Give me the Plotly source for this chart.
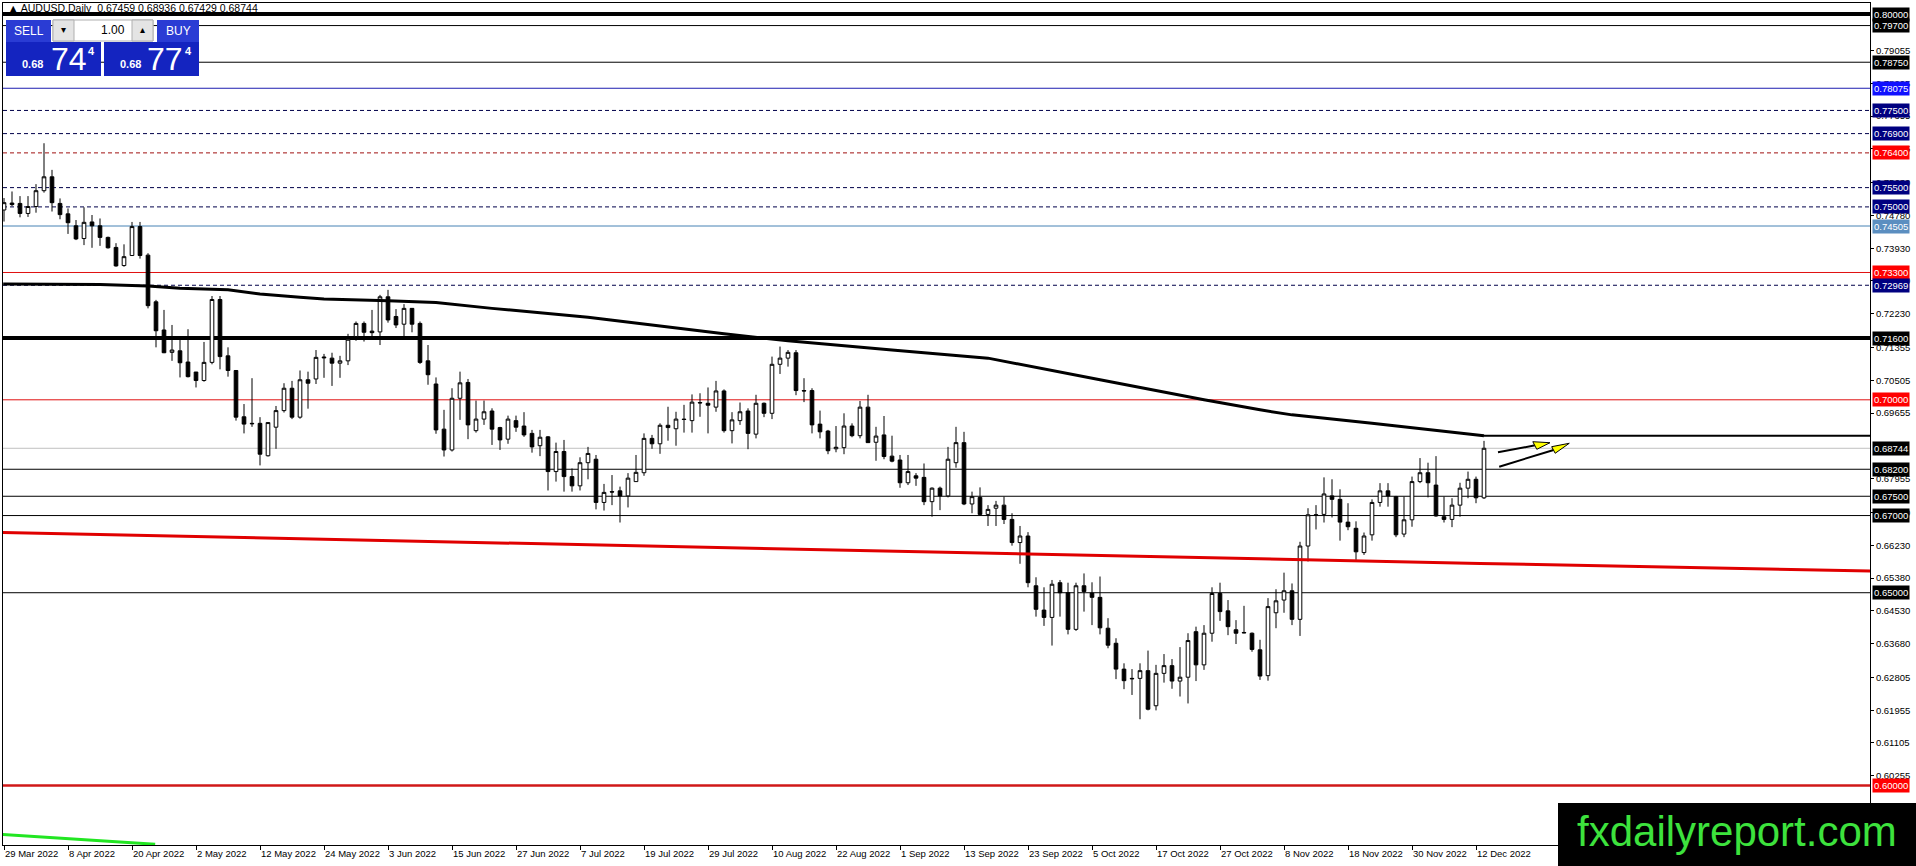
import plotly.graph_objects as go

###############################################################################
# Data (AUDUSD daily)
###############################################################################
tick_dates = ["29 Mar 2022", "8 Apr 2022", "20 Apr 2022", "2 May 2022", "12 May 2022",
              "24 May 2022", "3 Jun 2022", "15 Jun 2022", "27 Jun 2022", "7 Jul 2022",
              "19 Jul 2022", "29 Jul 2022", "10 Aug 2022", "22 Aug 2022", "1 Sep 2022",
              "13 Sep 2022", "23 Sep 2022", "5 Oct 2022", "17 Oct 2022", "27 Oct 2022",
              "8 Nov 2022", "18 Nov 2022", "30 Nov 2022", "12 Dec 2022"]

opens = [0.7492, 0.7510, 0.7509, 0.7483, 0.7501, 0.7542, 0.7578, 0.7509, 0.7482, 0.7451,
         0.7418, 0.7461, 0.7451, 0.7421, 0.7395, 0.7348, 0.7374, 0.7449, 0.7375, 0.7254,
         0.7181, 0.7123, 0.7127, 0.7098, 0.7072, 0.7050, 0.7097, 0.7260, 0.7114, 0.7076,
         0.6956, 0.6939, 0.6939, 0.6855, 0.6929, 0.6972, 0.7030, 0.6955, 0.7052, 0.7054,
         0.7111, 0.7108, 0.7095, 0.7101, 0.7164, 0.7198, 0.7178, 0.7176, 0.7267, 0.7216,
         0.7196, 0.7237, 0.7198, 0.7101, 0.7041, 0.6924, 0.6870, 0.7004, 0.7045, 0.6920,
         0.6950, 0.6971, 0.6928, 0.6898, 0.6946, 0.6932, 0.6913, 0.6881, 0.6904, 0.6814,
         0.6866, 0.6801, 0.6777, 0.6837, 0.6846, 0.6734, 0.6762, 0.6764, 0.6751, 0.6788,
         0.6811, 0.6900, 0.6886, 0.6934, 0.6925, 0.6950, 0.6946, 0.6993, 0.6991, 0.6981,
         0.7023, 0.6920, 0.6946, 0.6971, 0.6911, 0.6991, 0.6965, 0.7092, 0.7108, 0.7122,
         0.7024, 0.7024, 0.6937, 0.6919, 0.6873, 0.6876, 0.6932, 0.6907, 0.6981, 0.6890,
         0.6909, 0.6854, 0.6844, 0.6785, 0.6803, 0.6799, 0.6736, 0.6771, 0.6751, 0.6837,
         0.6889, 0.6730, 0.6747, 0.6703, 0.6719, 0.6727, 0.6690, 0.6630, 0.6647, 0.6518,
         0.6455, 0.6436, 0.6526, 0.6500, 0.6405, 0.6518, 0.6499, 0.6488, 0.6408, 0.6369,
         0.6302, 0.6278, 0.6278, 0.6298, 0.6207, 0.6291, 0.6311, 0.6271, 0.6281, 0.6399,
         0.6313, 0.6395, 0.6498, 0.6453, 0.6404, 0.6397, 0.6395, 0.6352, 0.6285, 0.6448,
         0.6481, 0.6505, 0.6431, 0.6621, 0.6702, 0.6703, 0.6751, 0.6742, 0.6683, 0.6667,
         0.6604, 0.6650, 0.6734, 0.6764, 0.6749, 0.6652, 0.6689, 0.6788, 0.6811, 0.6779,
         0.6697, 0.6690, 0.6727, 0.6771, 0.6794, 0.67459]

highs = [0.7523, 0.7540, 0.7528, 0.7528, 0.7559, 0.7665, 0.7596, 0.7522, 0.7496, 0.7466,
         0.7499, 0.7479, 0.7470, 0.7423, 0.7406, 0.7403, 0.7461, 0.7461, 0.7380, 0.7259,
         0.7233, 0.7194, 0.7157, 0.7183, 0.7072, 0.7150, 0.7269, 0.7269, 0.7136, 0.7076,
         0.6989, 0.7056, 0.6955, 0.6941, 0.6984, 0.7043, 0.7049, 0.7076, 0.7073, 0.7129,
         0.7119, 0.7122, 0.7114, 0.7171, 0.7203, 0.7203, 0.7233, 0.7272, 0.7285, 0.7235,
         0.7248, 0.7237, 0.7203, 0.7142, 0.7058, 0.6974, 0.7030, 0.7073, 0.7054, 0.6998,
         0.6998, 0.6978, 0.6930, 0.6959, 0.6959, 0.6968, 0.6922, 0.6922, 0.6906, 0.6889,
         0.6896, 0.6822, 0.6851, 0.6878, 0.6857, 0.6782, 0.6805, 0.6775, 0.6810, 0.6857,
         0.6913, 0.6909, 0.6939, 0.6982, 0.6969, 0.6987, 0.7014, 0.7017, 0.7032, 0.7049,
         0.7027, 0.6968, 0.6993, 0.6978, 0.7013, 0.6993, 0.7112, 0.7138, 0.7129, 0.7129,
         0.7056, 0.7030, 0.6972, 0.6922, 0.6932, 0.6965, 0.6939, 0.6997, 0.7013, 0.6930,
         0.6958, 0.6907, 0.6857, 0.6857, 0.6810, 0.6835, 0.6773, 0.6775, 0.6878, 0.6930,
         0.6917, 0.6762, 0.6773, 0.6727, 0.6738, 0.6749, 0.6706, 0.6673, 0.6657, 0.6540,
         0.6514, 0.6533, 0.6533, 0.6526, 0.6526, 0.6550, 0.6527, 0.6542, 0.6434, 0.6382,
         0.6317, 0.6302, 0.6317, 0.6350, 0.6313, 0.6341, 0.6328, 0.6359, 0.6395, 0.6412,
         0.6416, 0.6514, 0.6526, 0.6481, 0.6429, 0.6466, 0.6397, 0.6378, 0.6486, 0.6509,
         0.6552, 0.6524, 0.6632, 0.6719, 0.6727, 0.6799, 0.6794, 0.6768, 0.6732, 0.6685,
         0.6656, 0.6742, 0.6784, 0.6784, 0.6751, 0.6749, 0.6801, 0.6849, 0.6837, 0.6854,
         0.6749, 0.6745, 0.6785, 0.6814, 0.6801, 0.68936]

lows = [0.7462, 0.7502, 0.7473, 0.7474, 0.7485, 0.7537, 0.7488, 0.7468, 0.7430, 0.7414,
        0.7401, 0.7394, 0.7399, 0.7392, 0.7345, 0.7345, 0.7373, 0.7366, 0.7237, 0.7136,
        0.7121, 0.7101, 0.7058, 0.7058, 0.7032, 0.7047, 0.7092, 0.7079, 0.7060, 0.6946,
        0.6913, 0.6930, 0.6830, 0.6853, 0.6873, 0.6967, 0.6950, 0.6951, 0.6977, 0.7041,
        0.7057, 0.7036, 0.7057, 0.7090, 0.7153, 0.7151, 0.7160, 0.7142, 0.7200, 0.7186,
        0.7164, 0.7175, 0.7093, 0.7039, 0.6912, 0.6853, 0.6866, 0.6948, 0.6898, 0.6915,
        0.6935, 0.6883, 0.6870, 0.6886, 0.6917, 0.6904, 0.6863, 0.6854, 0.6765, 0.6788,
        0.6762, 0.6762, 0.6765, 0.6794, 0.6716, 0.6713, 0.6727, 0.6682, 0.6721, 0.6788,
        0.6803, 0.6873, 0.6860, 0.6894, 0.6881, 0.6915, 0.6915, 0.6956, 0.6913, 0.6969,
        0.6915, 0.6887, 0.6935, 0.6872, 0.6900, 0.6955, 0.6950, 0.7067, 0.7086, 0.7012,
        0.6994, 0.6913, 0.6900, 0.6859, 0.6864, 0.6859, 0.6903, 0.6900, 0.6889, 0.6842,
        0.6846, 0.6838, 0.6772, 0.6779, 0.6777, 0.6727, 0.6697, 0.6714, 0.6747, 0.6824,
        0.6727, 0.6706, 0.6699, 0.6673, 0.6673, 0.6678, 0.6622, 0.6575, 0.6514, 0.6438,
        0.6414, 0.6363, 0.6438, 0.6392, 0.6401, 0.6451, 0.6416, 0.6392, 0.6356, 0.6276,
        0.6250, 0.6235, 0.6172, 0.6195, 0.6195, 0.6267, 0.6251, 0.6231, 0.6213, 0.6271,
        0.6300, 0.6373, 0.6427, 0.6390, 0.6367, 0.6395, 0.6347, 0.6274, 0.6272, 0.6408,
        0.6448, 0.6416, 0.6388, 0.6581, 0.6664, 0.6682, 0.6695, 0.6635, 0.6662, 0.6585,
        0.6598, 0.6635, 0.6723, 0.6723, 0.6644, 0.6644, 0.6671, 0.6784, 0.6747, 0.6697,
        0.6682, 0.6670, 0.6697, 0.6745, 0.6732, 0.67429]

closes = [0.7511, 0.7506, 0.7483, 0.7501, 0.7542, 0.7578, 0.7511, 0.7480, 0.7459, 0.7417,
          0.7460, 0.7451, 0.7421, 0.7394, 0.7347, 0.7371, 0.7449, 0.7374, 0.7244, 0.7179,
          0.7122, 0.7129, 0.7096, 0.7060, 0.7050, 0.7097, 0.7260, 0.7112, 0.7076, 0.6955,
          0.6937, 0.6938, 0.6859, 0.6941, 0.6972, 0.7030, 0.6955, 0.7052, 0.7043, 0.7110,
          0.7109, 0.7095, 0.7101, 0.7157, 0.7198, 0.7175, 0.7174, 0.7267, 0.7207, 0.7194,
          0.7237, 0.7196, 0.7097, 0.7065, 0.6922, 0.6870, 0.7004, 0.7044, 0.6935, 0.6950,
          0.6969, 0.6924, 0.6896, 0.6950, 0.6929, 0.6909, 0.6878, 0.6903, 0.6814, 0.6866,
          0.6801, 0.6777, 0.6837, 0.6861, 0.6734, 0.6760, 0.6761, 0.6751, 0.6797, 0.6812,
          0.6900, 0.6886, 0.6934, 0.6928, 0.6950, 0.6949, 0.6994, 0.6992, 0.6986, 0.7023,
          0.6920, 0.6948, 0.6969, 0.6913, 0.6991, 0.6965, 0.7092, 0.7108, 0.7123, 0.7024,
          0.7023, 0.6935, 0.6917, 0.6868, 0.6877, 0.6932, 0.6907, 0.6981, 0.6889, 0.6906,
          0.6853, 0.6841, 0.6785, 0.6814, 0.6797, 0.6736, 0.6771, 0.6751, 0.6846, 0.6889,
          0.6730, 0.6749, 0.6703, 0.6716, 0.6727, 0.6690, 0.6630, 0.6647, 0.6526, 0.6457,
          0.6436, 0.6522, 0.6500, 0.6405, 0.6518, 0.6503, 0.6488, 0.6409, 0.6364, 0.6302,
          0.6272, 0.6277, 0.6298, 0.6198, 0.6291, 0.6311, 0.6271, 0.6281, 0.6376, 0.6313,
          0.6395, 0.6498, 0.6451, 0.6412, 0.6395, 0.6396, 0.6353, 0.6284, 0.6464, 0.6479,
          0.6505, 0.6431, 0.6621, 0.6702, 0.6701, 0.6756, 0.6742, 0.6683, 0.6671, 0.6606,
          0.6647, 0.6734, 0.6764, 0.6751, 0.6650, 0.6689, 0.6788, 0.6811, 0.6785, 0.6699,
          0.6690, 0.6727, 0.6771, 0.6794, 0.6746, 0.68744]

# Slow black moving average (bar index, value)
ma_bars = [-0.1, 12, 18, 22, 28, 32, 37, 40, 48, 54, 61, 73, 90, 98, 111, 123, 137, 150,
           157, 161, 171, 185]
ma_values = [0.7300, 0.7299, 0.7295, 0.7289, 0.7285, 0.7274, 0.7266, 0.7261, 0.7257, 0.7252,
             0.7237, 0.7214, 0.7171, 0.7153, 0.7129, 0.7108, 0.7052, 0.7000, 0.6974, 0.6961,
             0.6939, 0.6907]

# Red long moving average (extends into the future area)
red_ma_bars = [-0.5, 49.5, 122, 157, 184.5, 233.3]
red_ma_values = [0.6656, 0.6634, 0.6604, 0.6587, 0.6576, 0.6556]

# Green indicator at the bottom-left
green_bars = [-0.5, 18.9]
green_values = [0.5874, 0.5848]

# Horizontal levels and their right-axis labels
level_prices = [0.80000, 0.79700, 0.78750, 0.78075, 0.77500, 0.76900, 0.76400, 0.75500,
                0.75000, 0.74505, 0.73300, 0.72969, 0.71600, 0.70000, 0.68744, 0.68200,
                0.67500, 0.67000, 0.65000, 0.60000]
level_kinds = ["thick", "thin", "thin", "blue", "navydash", "navydash", "reddash", "navydash",
               "navydash", "steel", "red", "navydash", "thick", "red", "bid", "thin",
               "thin", "thin", "thin", "redthick"]
ma_end_level = 0.6907

axis_ticks = [0.79055, 0.78205, 0.77355, 0.76505, 0.75630, 0.74780, 0.73930, 0.73080,
              0.72230, 0.71355, 0.70505, 0.69655, 0.67955, 0.67080, 0.66230,
              0.65380, 0.64530, 0.63680, 0.62805, 0.61955, 0.61105, 0.60255]

header_text = "AUDUSD,Daily  0.67459 0.68936 0.67429 0.68744"

###############################################################################
# Styles
###############################################################################
LINE_STYLE = {
    "thick": dict(color="black", width=4, dash="solid"),
    "thin": dict(color="black", width=1, dash="solid"),
    "blue": dict(color="#1c1cb0", width=1, dash="solid"),
    "navydash": dict(color="#00004a", width=1, dash="4px,3px"),
    "reddash": dict(color="#a01010", width=1, dash="4px,3px"),
    "steel": dict(color="#4682b4", width=1, dash="solid"),
    "red": dict(color="#e01010", width=1, dash="solid"),
    "bid": dict(color="#c0c0c0", width=1, dash="solid"),
    "redthick": dict(color="#d01818", width=2.5, dash="solid"),
}
LABEL_BG = {
    "thick": "black", "thin": "black", "bid": "black", "blue": "#1010ff",
    "navydash": "#000080", "reddash": "#ff0000", "red": "#ff0000",
    "redthick": "#ff0000", "steel": "#5b8ec0",
}

W, H = 1916, 866
L, R, T, B = 3, 46, 3, 21
PW, PH = W - L - R, H - T - B
FONT = "Liberation Sans"


def px(x):
    return (x - L) / PW


def py(y):
    return (H - B - y) / PH


n = len(opens)
bars = list(range(n))

###############################################################################
# Figure
###############################################################################
fig = go.Figure()

fig.add_trace(go.Scatter(x=green_bars, y=green_values, mode="lines",
                         line=dict(color="#22e622", width=3), hoverinfo="skip"))
fig.add_trace(go.Scatter(x=red_ma_bars, y=red_ma_values, mode="lines",
                         line=dict(color="#e00000", width=3), hoverinfo="skip"))

fig.add_trace(go.Candlestick(
    x=bars, open=opens, high=highs, low=lows, close=closes,
    increasing=dict(line=dict(color="black", width=1), fillcolor="white"),
    decreasing=dict(line=dict(color="black", width=1), fillcolor="black"),
    whiskerwidth=0, hoverinfo="skip"))

fig.add_trace(go.Scatter(x=ma_bars, y=ma_values, mode="lines",
                         line=dict(color="black", width=3), hoverinfo="skip"))

# Horizontal levels
for price, kind in zip(level_prices, level_kinds):
    st = LINE_STYLE[kind]
    fig.add_shape(type="line", xref="paper", yref="y", x0=0, x1=1, y0=price, y1=price,
                  line=dict(color=st["color"], width=st["width"], dash=st["dash"]),
                  layer="below")
    fig.add_annotation(xref="paper", yref="y", x=1, y=price, xanchor="left", xshift=2,
                       text="%.5f" % price, showarrow=False, bgcolor=LABEL_BG[kind],
                       borderpad=1, font=dict(family=FONT, size=9.5, color="white"))

# line continuing from the end of the slow MA
fig.add_shape(type="line", xref="x", yref="y", x0=n - 1, x1=233.3,
              y0=ma_end_level, y1=ma_end_level, line=dict(color="black", width=2))

# Yellow arrows
arrows = [
    dict(tail=(186.75, 0.6864), base=(191.4, 0.6882),
         tri=[(191.1, 0.68914), (191.6, 0.68717), (193.25, 0.68888)]),
    dict(tail=(186.9, 0.68266), base=(193.7, 0.6870),
         tri=[(193.46, 0.68785), (193.9, 0.68614), (195.66, 0.68873)]),
]
for a in arrows:
    fig.add_shape(type="line", xref="x", yref="y", x0=a["tail"][0], y0=a["tail"][1],
                  x1=a["base"][0], y1=a["base"][1], line=dict(color="black", width=2))
    p = a["tri"]
    fig.add_shape(type="path", xref="x", yref="y",
                  path="M %s,%s L %s,%s L %s,%s Z" % (p[0][0], p[0][1], p[1][0], p[1][1],
                                                      p[2][0], p[2][1]),
                  fillcolor="#ffff00", line=dict(color="black", width=1))

# Header
fig.add_annotation(xref="paper", yref="paper", x=px(6), y=py(8), xanchor="left",
                   yanchor="middle", showarrow=False,
                   text="\u25b2 " + header_text,
                   font=dict(family=FONT, size=10.5, color="black"))

# One-click trading panel
panel = [
    (6, 20, 51, 42, "#2a3cd4"), (6, 42, 101, 76, "#1424c0"),
    (157, 20, 199, 42, "#2a3cd4"), (104, 42, 199, 76, "#1424c0"),
]
for x0, y0, x1, y1, col in panel:
    fig.add_shape(type="rect", xref="paper", yref="paper", x0=px(x0), x1=px(x1),
                  y0=py(y1), y1=py(y0), fillcolor=col, line=dict(width=0), layer="above")
fig.add_shape(type="rect", xref="paper", yref="paper", x0=px(53), x1=px(153),
              y0=py(41), y1=py(20), fillcolor="white", line=dict(color="#b0b0b0", width=1),
              layer="above")
for bx in (53, 132):
    fig.add_shape(type="rect", xref="paper", yref="paper", x0=px(bx), x1=px(bx + 21),
                  y0=py(41), y1=py(20), fillcolor="#e4e4e4", line=dict(color="#b0b0b0", width=1),
                  layer="above")

texts = [
    (28.5, 31, "SELL", 12, "center", False),
    (178, 31, "BUY", 12, "center", False),
    (127, 30, "1.00", 12, "right", False),
    (63, 30, "\u25be", 10, "center", False),
    (142, 30, "\u25b4", 10, "center", False),
    (20, 64, "0.68", 11, "left", True),
    (49, 59, "74", 32, "left", False),
    (86, 51, "4", 11, "left", True),
    (118, 64, "0.68", 11, "left", True),
    (145, 59, "77", 32, "left", False),
    (183, 51, "4", 11, "left", True),
]
for tx, ty, s, size, anchor, bold in texts:
    color = "black" if s in ("1.00", "\u25be", "\u25b4") else "white"
    fig.add_annotation(xref="paper", yref="paper", x=px(tx), y=py(ty), xanchor=anchor,
                       yanchor="middle", showarrow=False,
                       text="<b>%s</b>" % s if bold else s,
                       font=dict(family=FONT, size=size, color=color))

# Watermark
fig.add_shape(type="rect", xref="paper", yref="paper", x0=px(1558), x1=px(1920),
              y0=py(870), y1=py(803), fillcolor="black", line=dict(width=0), layer="above")
fig.add_annotation(xref="paper", yref="paper", x=px(1737), y=py(831), xanchor="center",
                   yanchor="middle", showarrow=False, text="fxdailyreport.com",
                   font=dict(family=FONT, size=42, color="#3de23d"))

fig.update_layout(
    width=W, height=H,
    margin=dict(l=L, r=R, t=T, b=B, pad=0),
    paper_bgcolor="white", plot_bgcolor="white",
    showlegend=False, boxgap=0.35,
    font=dict(family=FONT, size=10, color="black"),
    xaxis=dict(range=[-0.125, 233.25], tickvals=list(range(0, n, 8)), ticktext=tick_dates,
               ticks="outside", ticklen=4, tickcolor="black", ticklabelposition="outside right",
               tickangle=0, showgrid=False, zeroline=False, showline=True, linecolor="black",
               linewidth=1, mirror=True, rangeslider=dict(visible=False), fixedrange=True,
               tickfont=dict(family=FONT, size=9.5)),
    yaxis=dict(range=[0.58461, 0.80285], side="right", tickvals=axis_ticks,
               ticktext=["%.5f" % v for v in axis_ticks], ticks="outside", ticklen=3,
               tickcolor="black", showgrid=False, zeroline=False, showline=True,
               linecolor="black", linewidth=1, mirror=True, fixedrange=True,
               tickfont=dict(family=FONT, size=9.5)),
)

# page body has a default 8px margin; drop it so the figure fills the window exactly
fig.write_html("out.html", config={"displayModeBar": False},
               post_script="document.body.style.margin='0';document.body.style.overflow='hidden';")
